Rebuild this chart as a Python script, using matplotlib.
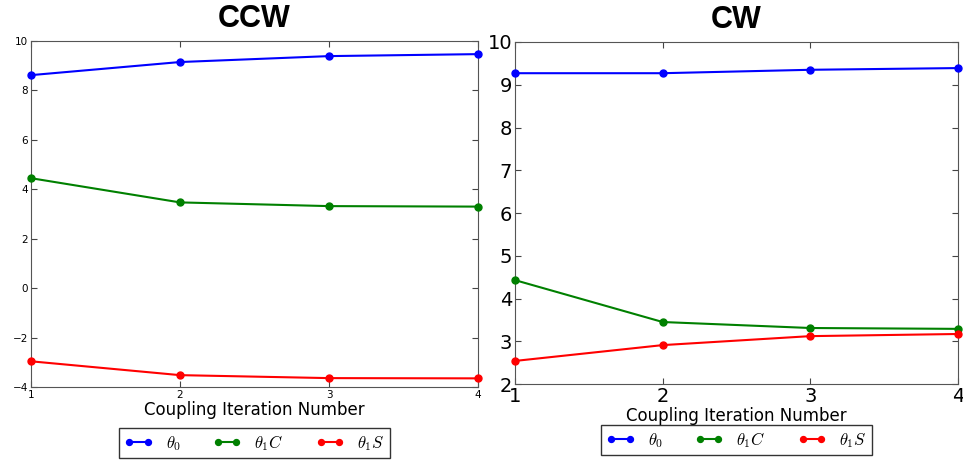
import matplotlib
matplotlib.use("Agg")
import matplotlib.pyplot as plt

plt.rcParams['mathtext.fontset'] = 'cm'

iterations = [1, 2, 3, 4]
ccw_theta0 = [8.62, 9.15, 9.39, 9.47]
ccw_theta1C = [4.45, 3.47, 3.32, 3.30]
ccw_theta1S = [-2.96, -3.52, -3.64, -3.65]
cw_theta0 = [9.27, 9.27, 9.35, 9.39]
cw_theta1C = [4.43, 3.45, 3.31, 3.29]
cw_theta1S = [2.54, 2.91, 3.12, 3.17]
labels = [r'$\theta_0$', r'$\theta_1 C$', r'$\theta_1 S$']
colors = ['#0000ff', '#008000', '#ff0000']

fig = plt.figure(figsize=(9.63, 4.61), dpi=100)
ax1 = fig.add_axes([0.0322, 0.1605, 0.4642, 0.7505])
ax2 = fig.add_axes([0.5348, 0.167, 0.46, 0.7419])

def draw(ax, series, title, ylim, yticks, tickfs, legend_anchor):
    for s, c, l in zip(series, colors, labels):
        ax.plot(iterations, s, color=c, lw=1.5, marker='o', ms=5, label=l, clip_on=False, zorder=3)
    ax.set_xlim(1, 4)
    ax.set_ylim(*ylim)
    ax.set_xticks(iterations)
    ax.set_yticks(yticks)
    ax.tick_params(direction='in', top=True, right=True, labelsize=tickfs, length=4, color='#444444', pad=2)
    for sp in ax.spines.values():
        sp.set_color('#555555')
    ax.set_title(title, fontsize=22, fontweight='bold', family='Liberation Sans', pad=10)
    ax.set_xlabel('Coupling Iteration Number', fontsize=12, labelpad=1)
    leg = ax.legend(loc='upper center', bbox_to_anchor=legend_anchor, ncol=3, numpoints=2,
                    fontsize=12, frameon=True, fancybox=False, edgecolor='black',
                    handlelength=1.7, columnspacing=1.9, handletextpad=0.8, borderpad=0.3,
                    borderaxespad=0, markerscale=0.85)
    leg.get_frame().set_linewidth(1.0)

draw(ax1, [ccw_theta0, ccw_theta1C, ccw_theta1S], 'CCW', (-4, 10), range(-4, 11, 2), 7.5, (0.5, -0.118))
draw(ax2, [cw_theta0, cw_theta1C, cw_theta1S], 'CW', (2, 10), range(2, 11), 14, (0.5, -0.12))

fig.savefig('out.png', dpi=100)
